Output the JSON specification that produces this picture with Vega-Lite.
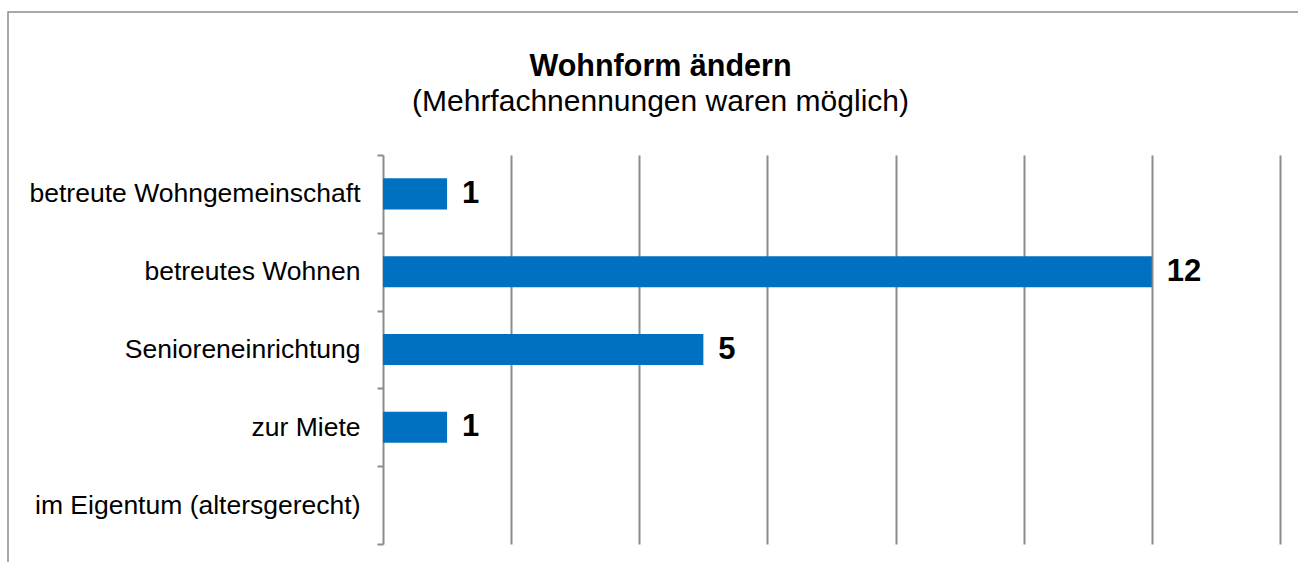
{
  "$schema": "https://vega.github.io/schema/vega-lite/v6.json",
  "autosize": {"type": "none"},
  "padding": {"left": 8, "top": 12, "right": 0, "bottom": 0},
  "width": 1305,
  "height": 560,
  "background": "white",
  "title": {
    "text": "Wohnform ändern",
    "subtitle": "(Mehrfachnennungen waren möglich)",
    "anchor": "middle",
    "frame": "group",
    "orient": "top",
    "offset": -118,
    "font": "Liberation Sans",
    "fontSize": 30.5,
    "fontWeight": "bold",
    "color": "black",
    "subtitleFont": "Liberation Sans",
    "subtitleFontSize": 30,
    "subtitleColor": "black",
    "subtitlePadding": 5
  },
  "data": {
    "values": [
      {"Wohnform": "betreute Wohngemeinschaft", "Anzahl": 1},
      {"Wohnform": "betreutes Wohnen", "Anzahl": 12},
      {"Wohnform": "Senioreneinrichtung", "Anzahl": 5},
      {"Wohnform": "zur Miete", "Anzahl": 1},
      {"Wohnform": "im Eigentum (altersgerecht)", "Anzahl": 0}
    ]
  },
  "encoding": {
    "y": {
      "field": "Wohnform",
      "type": "nominal",
      "sort": null,
      "title": null,
      "scale": {"range": [143, 532], "paddingInner": 0, "paddingOuter": 0},
      "axis": {
        "orient": "left",
        "offset": -375,
        "tickBand": "extent",
        "domainColor": "#8c8c8c",
        "domainWidth": 2,
        "tickColor": "#8c8c8c",
        "tickWidth": 2,
        "tickSize": 6,
        "labelFont": "Liberation Sans",
        "labelFontSize": 26.5,
        "labelColor": "black",
        "labelPadding": 17,
        "labelLimit": 600,
        "grid": false
      }
    },
    "x": {
      "field": "Anzahl",
      "type": "quantitative",
      "title": null,
      "scale": {"domain": [0, 14], "range": [375, 1272], "nice": false, "zero": true},
      "axis": {
        "orient": "top",
        "values": [2, 4, 6, 8, 10, 12, 14],
        "grid": true,
        "gridColor": "#8c8c8c",
        "gridWidth": 2,
        "domain": false,
        "ticks": false,
        "labels": false
      }
    }
  },
  "layer": [
    {
      "mark": {"type": "bar", "color": "#0070C0", "height": {"band": 0.4}}
    },
    {
      "transform": [{"filter": "datum.Anzahl > 0"}],
      "mark": {
        "type": "text",
        "align": "left",
        "baseline": "middle",
        "dx": 15,
        "font": "Liberation Sans",
        "fontSize": 31,
        "fontWeight": "bold",
        "color": "black"
      },
      "encoding": {"text": {"field": "Anzahl", "type": "quantitative"}}
    }
  ],
  "config": {
    "view": {"stroke": "#8c8c8c", "strokeWidth": 1.5, "fill": "white"}
  }
}
